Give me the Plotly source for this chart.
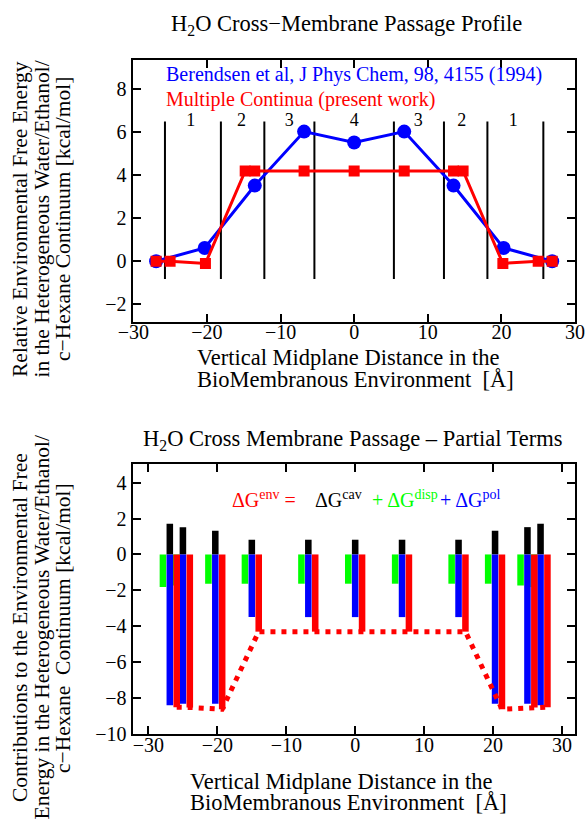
import plotly.graph_objects as go

# ---------------- data: top panel ----------------
blue_x = [-26.9, -20.3, -13.5, -6.8, 0, 6.8, 13.5, 20.3, 26.9]
blue_y = [0.0, 0.62, 3.52, 6.03, 5.52, 6.03, 3.52, 0.62, 0.0]
red_x = [-26.9, -25.0, -20.2, -14.8, -13.5, -6.8, 0, 6.8, 13.5, 14.8, 20.2, 25.0, 26.9]
red_y = [0.0, 0.0, -0.1, 4.2, 4.2, 4.2, 4.2, 4.2, 4.2, 4.2, -0.1, 0.0, 0.0]
boundary_x = [-25.7, -18.1, -12.2, -5.4, 5.4, 12.2, 18.1, 25.7]
boundary_y = [-0.82, 6.5]
region_x = [-22.2, -15.3, -8.8, 0, 8.7, 14.6, 21.6]
region_labels = ["1", "2", "3", "4", "3", "2", "1"]
region_label_y = 6.5

# ---------------- data: bottom panel ----------------
grp_x = [-26.9, -25.0, -20.3, -15.0, -6.8, 0, 6.8, 15.0, 20.3, 25.0, 26.9]
dG_cav = [1.71, 1.52, 1.32, 0.82, 0.82, 0.82, 0.82, 0.82, 1.32, 1.52, 1.71]
dG_disp = [-1.82, -1.73, -1.63, -1.63, -1.63, -1.63, -1.63, -1.63, -1.63, -1.73, -1.82]
dG_pol = [-8.40, -8.31, -8.31, -3.49, -3.49, -3.49, -3.49, -3.49, -8.31, -8.31, -8.40]
dG_env = [-8.51, -8.52, -8.62, -4.30, -4.30, -4.30, -4.30, -4.30, -8.62, -8.52, -8.51]

FONT = "Liberation Serif"
BLUE, RED, GREEN, BLACK = "#0000ff", "#ff0000", "#00ff00", "#000000"

fig = go.Figure()

# vertical region boundaries
vx, vy = [], []
for b in boundary_x:
    vx += [b, b, None]
    vy += [boundary_y[0], boundary_y[1], None]
fig.add_trace(go.Scatter(x=vx, y=vy, mode="lines", line=dict(color=BLACK, width=2),
                         xaxis="x", yaxis="y", hoverinfo="skip"))
fig.add_trace(go.Scatter(x=region_x, y=[region_label_y] * len(region_x), mode="text",
                         text=region_labels, textfont=dict(family=FONT, size=18, color=BLACK),
                         xaxis="x", yaxis="y"))
fig.add_trace(go.Scatter(x=blue_x, y=blue_y, mode="lines+markers",
                         line=dict(color=BLUE, width=3),
                         marker=dict(symbol="circle", size=14, color=BLUE),
                         xaxis="x", yaxis="y"))
fig.add_trace(go.Scatter(x=red_x, y=red_y, mode="lines+markers",
                         line=dict(color=RED, width=3),
                         marker=dict(symbol="square", size=11, color=RED),
                         xaxis="x", yaxis="y"))

# bottom bars
W = 0.95
fig.add_trace(go.Bar(x=grp_x, y=dG_disp, width=W, offset=-1.475, marker=dict(color=GREEN, line=dict(width=0)),
                     xaxis="x2", yaxis="y2"))
fig.add_trace(go.Bar(x=grp_x, y=dG_cav, width=W, offset=-0.475, marker=dict(color=BLACK, line=dict(width=0)),
                     xaxis="x2", yaxis="y2"))
fig.add_trace(go.Bar(x=grp_x, y=dG_pol, width=W, offset=-0.475, marker=dict(color=BLUE, line=dict(width=0)),
                     xaxis="x2", yaxis="y2"))
fig.add_trace(go.Bar(x=grp_x, y=dG_env, width=W, offset=0.525, marker=dict(color=RED, line=dict(width=0)),
                     xaxis="x2", yaxis="y2"))
fig.add_trace(go.Scatter(x=[g + 1.0 for g in grp_x], y=dG_env, mode="lines",
                         line=dict(color=RED, width=5, dash="5px,6px"),
                         xaxis="x2", yaxis="y2"))

axis_common = dict(showline=True, linecolor=BLACK, linewidth=1.5, mirror="ticks",
                   ticks="inside", ticklen=8, tickwidth=1.5, tickcolor=BLACK,
                   showgrid=False, zeroline=False, automargin=False,
                   tickfont=dict(family=FONT, size=20, color=BLACK))

fig.update_layout(
    width=588, height=827,
    margin=dict(l=0, r=0, t=0, b=0, autoexpand=False),
    paper_bgcolor="white", plot_bgcolor="white",
    showlegend=False, barmode="overlay",
    font=dict(family=FONT, color=BLACK),
    xaxis=dict(domain=[133.3 / 588, 575 / 588], range=[-30, 30], dtick=10, anchor="y",
               ticklabelstandoff=-8, **axis_common),
    yaxis=dict(domain=[1 - 321.7 / 827, 1 - 60 / 827], range=[-2.81, 9.36], dtick=2, anchor="x",
               ticklabelstandoff=1, **axis_common),
    xaxis2=dict(domain=[133.3 / 588, 575 / 588], range=[-32.2, 31.9], dtick=10, tick0=0, anchor="y2",
                ticklabelstandoff=-8, **axis_common),
    yaxis2=dict(domain=[1 - 734 / 827, 1 - 464.3 / 827], range=[-10, 5.02], dtick=2, tick0=0, anchor="x2",
                ticklabelstandoff=1, **axis_common),
)

ann = []
# titles
ann.append(dict(text="H<sub>2</sub>O Cross\u2212Membrane Passage Profile", xref="paper", yref="paper",
                x=346.7 / 588, y=1 - 25 / 827, xanchor="center", yanchor="middle", showarrow=False,
                font=dict(family=FONT, size=22.5, color=BLACK)))
ann.append(dict(text="H<sub>2</sub>O Cross Membrane Passage \u2013 Partial Terms", xref="paper", yref="paper",
                x=353 / 588, y=1 - 440 / 827, xanchor="center", yanchor="middle", showarrow=False,
                font=dict(family=FONT, size=22.5, color=BLACK)))
# x axis titles (one annotation per line for tight line spacing)
xt_lines = ["Vertical Midplane Distance in the", "BioMembranous Environment  [\u00c5]"]
for x0, ys in ((195, (358, 379)), (188, (781, 802))):
    for line, yc in zip(xt_lines, ys):
        ann.append(dict(text=line, xref="paper", yref="paper", x=x0 / 588, y=1 - yc / 827,
                        xanchor="left", yanchor="middle", showarrow=False,
                        font=dict(family=FONT, size=22.5, color=BLACK)))
# y axis titles
yt_top = ["Relative Environmental Free Energy", "in the Heterogeneous Water/Ethanol/",
          "c\u2212Hexane Continuum [kcal/mol]"]
yt_bot = ["Contributions to the Environmental Free", "Energy in the Heterogeneous Water/Ethanol/",
          "c\u2212Hexane  Continuum [kcal/mol]"]
for lines, yc in ((yt_top, 219), (yt_bot, 628)):
    for line, xc in zip(lines, (20, 41.5, 63)):
        ann.append(dict(text=line, xref="paper", yref="paper", x=xc / 588, y=1 - yc / 827,
                        xanchor="center", yanchor="middle", textangle=-90, showarrow=False,
                        font=dict(family=FONT, size=21.5, color=BLACK)))
# legend texts (top)
ann.append(dict(text="Berendsen et al, J Phys Chem, 98, 4155 (1994)", xref="x", yref="y",
                x=-25.8, y=8.67, xanchor="left", yanchor="middle", showarrow=False,
                font=dict(family=FONT, size=20, color=BLUE)))
ann.append(dict(text="Multiple Continua (present work)", xref="x", yref="y",
                x=-25.8, y=7.53, xanchor="left", yanchor="middle", showarrow=False,
                font=dict(family=FONT, size=20, color=RED)))
# equation (bottom)
eq = [("\u0394G<sup>env</sup> =", -18.1, RED),
      ("\u0394G<sup>cav</sup>", -6.05, BLACK),
      ("+ \u0394G<sup>disp</sup>", 2.08, GREEN),
      ("+ \u0394G<sup>pol</sup>", 11.95, BLUE)]
for t, xx, c in eq:
    ann.append(dict(text=t, xref="x2", yref="y2", x=xx, y=3.1, xanchor="left", yanchor="middle",
                    showarrow=False, font=dict(family=FONT, size=20, color=c)))
fig.update_layout(annotations=ann)

fig.write_html("out.html", config={"displayModeBar": False},
               post_script="document.body.style.margin='0px';document.body.style.overflow='hidden';")
